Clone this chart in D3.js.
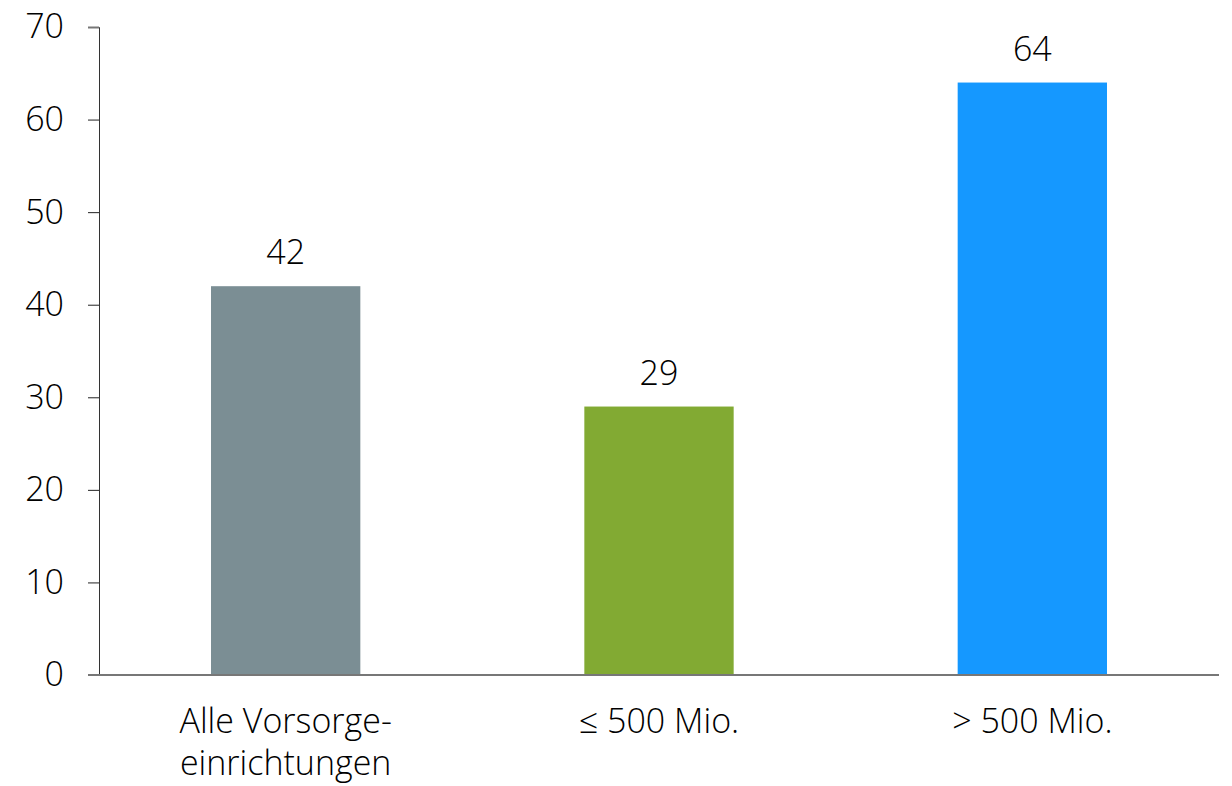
<!DOCTYPE html>
<html>
<head>
<meta charset="utf-8">
<script src="https://cdn.jsdelivr.net/npm/d3@7/dist/d3.min.js"></script>
<style>
  html, body { margin: 0; padding: 0; background: #fff; }
  svg { display: block; font-family: "Open Sans", "Noto Sans", sans-serif; font-weight: 300; }
</style>
</head>
<body>
<svg id="chart" width="1232" height="786"></svg>
<script>
// Categories (label lines), values and bar colours
const categories = ["Alle Vorsorgeeinrichtungen", "≤ 500 Mio.", "> 500 Mio."];
const categoryLines = [["Alle Vorsorge-", "einrichtungen"], ["≤ 500 Mio."], ["> 500 Mio."]];
const values = [42, 29, 64];
const barColors = ["#7b8e94", "#82aa33", "#1598ff"];
const yTicks = [0, 10, 20, 30, 40, 50, 60, 70];

const svg = d3.select("#chart");
const margin = { left: 99, right: 13, top: 27, bottom: 111 };
const W = 1232, H = 786;

const x = d3.scaleBand()
  .domain(categories)
  .range([margin.left, W - margin.right])
  .paddingInner(0.6)
  .paddingOuter(0.3);

const y = d3.scaleLinear()
  .domain([0, 70])
  .range([H - margin.bottom, margin.top]);

const fontSize = 34;
const fontFamily = "'Open Sans', 'Noto Sans', sans-serif";

// Y axis
const yAxis = svg.append("g")
  .attr("transform", `translate(${margin.left},0)`)
  .call(d3.axisLeft(y).tickValues(yTicks).tickSize(11).tickPadding(24).tickFormat(d3.format("d")));
yAxis.select(".domain").attr("stroke", "#333").attr("stroke-width", 1);
yAxis.selectAll(".tick line").attr("stroke", "#222").attr("stroke-width", 1);
yAxis.selectAll(".tick text")
  .attr("font-size", fontSize)
  .attr("font-family", fontFamily)
  .attr("font-weight", 300)
  .attr("fill", "#000");
yAxis.selectAll(".tick").filter(d => d === 70).select("line")
  .attr("stroke", "#777").attr("stroke-width", 2);

// Bars
svg.append("g").selectAll("rect")
  .data(values)
  .join("rect")
  .attr("x", (d, i) => x(categories[i]))
  .attr("y", d => y(d))
  .attr("width", x.bandwidth())
  .attr("height", d => y(0) - y(d))
  .attr("fill", (d, i) => barColors[i]);

// Baseline (x axis)
svg.append("line")
  .attr("x1", margin.left - 11)
  .attr("x2", W - margin.right)
  .attr("y1", y(0))
  .attr("y2", y(0))
  .attr("stroke", "#777")
  .attr("stroke-width", 2);

// Value labels
svg.append("g").selectAll("text")
  .data(values)
  .join("text")
  .attr("x", (d, i) => x(categories[i]) + x.bandwidth() / 2)
  .attr("y", d => y(d) - 22)
  .attr("text-anchor", "middle")
  .attr("font-size", fontSize)
  .attr("fill", "#000")
  .text(d => d3.format("d")(d));

// Category labels
const cat = svg.append("g").selectAll("text")
  .data(categoryLines)
  .join("text")
  .attr("text-anchor", "middle")
  .attr("font-size", fontSize)
  .attr("fill", "#000")
  .attr("transform", (d, i) => `translate(${x(categories[i]) + x.bandwidth() / 2},${y(0) + 58})`);
cat.selectAll("tspan")
  .data(d => d)
  .join("tspan")
  .attr("x", 0)
  .attr("y", (d, i) => i * 42)
  .text(d => d);
</script>
</body>
</html>
